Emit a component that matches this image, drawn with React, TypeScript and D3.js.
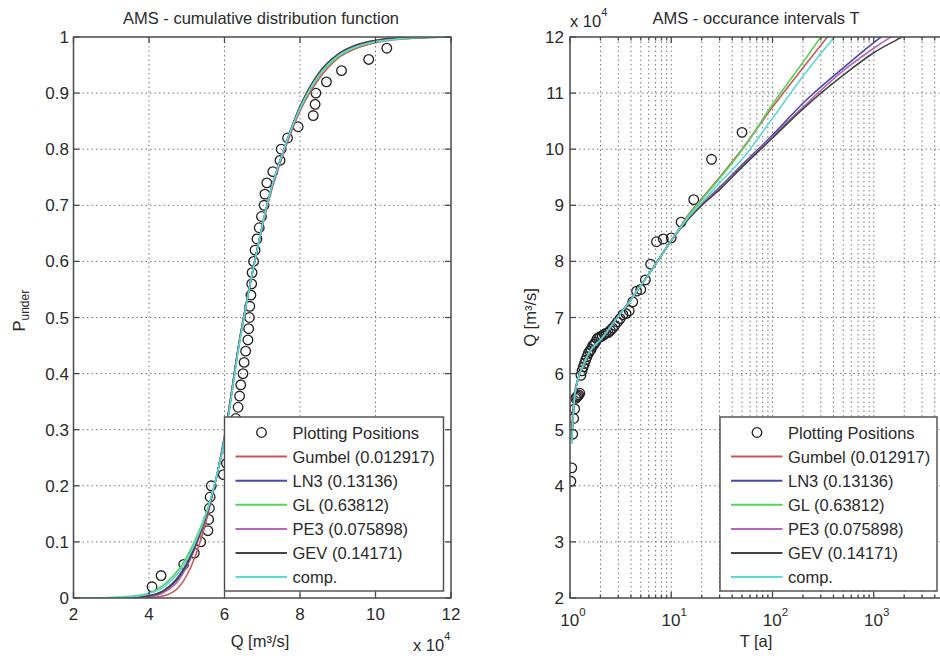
import React from "react";
import * as d3 from "d3";

// ---------- data ----------
// plotting positions (probability of non-exceedance) and observed annual maxima (x 10^4 m3/s)
const P_POS = [0.02, 0.04, 0.06, 0.08, 0.10, 0.12, 0.14, 0.16, 0.18, 0.20, 0.22, 0.24, 0.26, 0.28, 0.30, 0.32, 0.34, 0.36, 0.38, 0.40, 0.42, 0.44, 0.46, 0.48, 0.50, 0.52, 0.54, 0.56, 0.58, 0.60, 0.62, 0.64, 0.66, 0.68, 0.70, 0.72, 0.74, 0.76, 0.78, 0.80, 0.82, 0.84, 0.86, 0.88, 0.90, 0.92, 0.94, 0.96, 0.98];
const Q_OBS = [4.08, 4.32, 4.92, 5.20, 5.37, 5.56, 5.58, 5.60, 5.62, 5.65, 5.97, 6.05, 6.12, 6.18, 6.24, 6.30, 6.36, 6.40, 6.43, 6.49, 6.52, 6.56, 6.62, 6.64, 6.66, 6.67, 6.70, 6.72, 6.73, 6.77, 6.81, 6.86, 6.92, 6.98, 7.05, 7.07, 7.12, 7.28, 7.47, 7.50, 7.67, 7.95, 8.35, 8.40, 8.42, 8.70, 9.10, 9.82, 10.30];

// left panel: fitted CDFs, P at Q grid
const CDF_Q = [2, 3, 3.5, 4, 4.4, 4.8, 5.2, 5.6, 6, 6.4, 6.8, 7.2, 7.6, 8, 8.5, 9, 9.5, 10, 10.5, 11, 12];
const CDF_GUMBEL = [0, 0, 0, 0.0005, 0.004, 0.02, 0.07, 0.16, 0.29, 0.46, 0.6, 0.715, 0.8, 0.868, 0.925, 0.962, 0.98, 0.99, 0.995, 0.998, 1.0];
const CDF_LN3 = [0, 0.0002, 0.001, 0.004, 0.014, 0.04, 0.09, 0.165, 0.285, 0.46, 0.6, 0.72, 0.805, 0.875, 0.935, 0.968, 0.985, 0.993, 0.997, 0.999, 1.0];
const CDF_GL = [0, 0.001, 0.003, 0.009, 0.024, 0.052, 0.1, 0.17, 0.28, 0.455, 0.6, 0.72, 0.805, 0.872, 0.93, 0.964, 0.982, 0.991, 0.996, 0.998, 1.0];
const CDF_PE3 = [0, 0, 0.0002, 0.002, 0.01, 0.033, 0.085, 0.165, 0.285, 0.46, 0.6, 0.72, 0.805, 0.875, 0.935, 0.968, 0.985, 0.993, 0.997, 0.999, 1.0];
const CDF_GEV = [0, 0.0001, 0.0008, 0.004, 0.013, 0.038, 0.088, 0.165, 0.285, 0.46, 0.6, 0.72, 0.805, 0.876, 0.936, 0.969, 0.986, 0.994, 0.998, 0.999, 1.0];
const CDF_COMP = [0, 0.0008, 0.002, 0.008, 0.02, 0.047, 0.095, 0.168, 0.283, 0.457, 0.6, 0.72, 0.805, 0.873, 0.932, 0.966, 0.983, 0.992, 0.996, 0.999, 1.0];

// right panel: fitted quantiles Q (x 10^4) at return periods T
const RT_T = [1.04, 1.1, 1.2, 1.35, 1.5, 1.7, 2, 2.5, 3, 4, 5, 7, 10, 15, 20, 30, 50, 100, 200, 500, 1000, 2000, 5000];
const RT_GUMBEL = [5.05, 5.6, 5.92, 6.15, 6.33, 6.48, 6.6, 6.83, 7.02, 7.32, 7.57, 7.95, 8.37, 8.85, 9.12, 9.5, 10.0, 10.75, 11.45, 12.35, 13.0, 13.7, 14.6];
const RT_LN3 = [4.8, 5.5, 5.9, 6.15, 6.33, 6.48, 6.6, 6.83, 7.02, 7.32, 7.57, 7.95, 8.37, 8.78, 9.02, 9.32, 9.72, 10.25, 10.82, 11.45, 11.9, 12.3, 12.8];
const RT_GL = [4.75, 5.5, 5.9, 6.15, 6.33, 6.48, 6.6, 6.83, 7.02, 7.32, 7.57, 7.95, 8.37, 8.83, 9.1, 9.48, 9.98, 10.8, 11.55, 12.6, 13.5, 14.4, 15.7];
const RT_PE3 = [4.85, 5.52, 5.9, 6.15, 6.33, 6.48, 6.6, 6.83, 7.02, 7.32, 7.57, 7.95, 8.37, 8.78, 9.02, 9.3, 9.7, 10.22, 10.75, 11.4, 11.8, 12.15, 12.6];
const RT_GEV = [4.82, 5.5, 5.9, 6.15, 6.33, 6.48, 6.6, 6.83, 7.02, 7.32, 7.57, 7.95, 8.37, 8.77, 9.0, 9.28, 9.68, 10.2, 10.72, 11.32, 11.72, 12.02, 12.4];
const RT_COMP = [4.78, 5.5, 5.9, 6.15, 6.33, 6.48, 6.6, 6.83, 7.02, 7.32, 7.57, 7.95, 8.37, 8.8, 9.05, 9.4, 9.82, 10.55, 11.3, 12.2, 12.9, 13.6, 14.5];

const SERIES_NAMES = ["Gumbel (0.012917)", "LN3 (0.13136)", "GL (0.63812)", "PE3 (0.075898)", "GEV (0.14171)", "comp."];
const SERIES_COLORS = ["#c85a5a", "#4a4aa8", "#5ad25a", "#b865c0", "#444444", "#5cd8d8"];
const CDF_SERIES = [CDF_GUMBEL, CDF_LN3, CDF_GL, CDF_PE3, CDF_GEV, CDF_COMP];
const RT_SERIES = [RT_GUMBEL, RT_LN3, RT_GL, RT_PE3, RT_GEV, RT_COMP];

const LEFT_X_TICKS = [2, 4, 6, 8, 10, 12];
const LEFT_Y_TICKS = [0, 0.1, 0.2, 0.3, 0.4, 0.5, 0.6, 0.7, 0.8, 0.9, 1];
const RIGHT_Y_TICKS = [2, 3, 4, 5, 6, 7, 8, 9, 10, 11, 12];
const RIGHT_DECADES = [0, 1, 2, 3];

// ---------- layout ----------
const FONT = "'Liberation Sans', Arial, sans-serif";
const TXT = "#2a2a2a";
const AX = "#4a4a4a";
const GRID = "#777";
const LP = { x0: 73.5, x1: 451, y0: 37, y1: 598 };
const RP = { x0: 570, x1: 975, y0: 37, y1: 598 };

function Legend({ x, y, w, h }: { x: number; y: number; w: number; h: number }) {
  const rowH = 24.1;
  const first = y + 15.5;
  return (
    <g>
      <rect x={x} y={y} width={w} height={h} fill="#fff" stroke={AX} strokeWidth={1.4} />
      <circle cx={x + 37} cy={first} r={4.8} fill="none" stroke="#222" strokeWidth={1.3} />
      <text x={x + 68} y={first + 6} fontSize={16.5} fill={TXT}>Plotting Positions</text>
      {SERIES_NAMES.map((n, i) => (
        <g key={n}>
          <line x1={x + 11} x2={x + 62.5} y1={first + rowH * (i + 1)} y2={first + rowH * (i + 1)} stroke={SERIES_COLORS[i]} strokeWidth={2} />
          <text x={x + 68} y={first + rowH * (i + 1) + 6} fontSize={16.5} fill={TXT}>{n}</text>
        </g>
      ))}
    </g>
  );
}

export default function App() {
  const xL = d3.scaleLinear().domain([2, 12]).range([LP.x0, LP.x1]);
  const yL = d3.scaleLinear().domain([0, 1]).range([LP.y1, LP.y0]);
  const xR = d3.scaleLog().domain([1, 10000]).range([RP.x0, RP.x1]);
  const yR = d3.scaleLinear().domain([2, 12]).range([RP.y1, RP.y0]);

  const lineL = d3.line<[number, number]>().x((d) => xL(d[0])).y((d) => yL(d[1])).curve(d3.curveMonotoneX);
  const lineR = d3.line<[number, number]>().x((d) => xR(d[0])).y((d) => yR(d[1])).curve(d3.curveMonotoneX);

  const minorT: { v: number; major: boolean }[] = [];
  RIGHT_DECADES.forEach((d) => {
    for (let k = 1; k <= 9; k++) minorT.push({ v: k * Math.pow(10, d), major: k === 1 });
  });
  minorT.push({ v: 10000, major: true });

  const returnPeriods = P_POS.map((p) => 1 / (1 - p));

  return (
    <svg width={940} height={656} style={{ position: "absolute", left: 0, top: 0, background: "#fff" }} fontFamily={FONT}>
      <defs>
        <clipPath id="clipL"><rect x={LP.x0} y={LP.y0} width={LP.x1 - LP.x0} height={LP.y1 - LP.y0} /></clipPath>
        <clipPath id="clipR"><rect x={RP.x0} y={RP.y0} width={RP.x1 - RP.x0} height={RP.y1 - RP.y0} /></clipPath>
      </defs>
      <rect x={0} y={0} width={940} height={656} fill="#fff" />

      {/* ===== LEFT PANEL ===== */}
      <g>
        {LEFT_X_TICKS.slice(1, -1).map((t) => (
          <line key={"gx" + t} x1={xL(t)} x2={xL(t)} y1={LP.y0} y2={LP.y1} stroke={GRID} strokeWidth={1} strokeDasharray="1.5,3" />
        ))}
        {LEFT_Y_TICKS.slice(1, -1).map((t) => (
          <line key={"gy" + t} x1={LP.x0} x2={LP.x1} y1={yL(t)} y2={yL(t)} stroke={GRID} strokeWidth={1} strokeDasharray="1.5,3" />
        ))}
        <g clipPath="url(#clipL)">
          {P_POS.map((p, i) => (
            <circle key={"cl" + i} cx={xL(Q_OBS[i])} cy={yL(p)} r={4.8} fill="none" stroke="#222" strokeWidth={1.3} />
          ))}
          {CDF_SERIES.map((s, i) => (
            <path key={"ll" + i} d={lineL(CDF_Q.map((q, j) => [q, s[j]] as [number, number])) || ""} fill="none" stroke={SERIES_COLORS[i]} strokeWidth={1.6} />
          ))}
        </g>
        {LEFT_X_TICKS.map((t) => (
          <g key={"tx" + t}>
            <line x1={xL(t)} x2={xL(t)} y1={LP.y1} y2={LP.y1 - 6} stroke={AX} strokeWidth={1.3} />
            <line x1={xL(t)} x2={xL(t)} y1={LP.y0} y2={LP.y0 + 6} stroke={AX} strokeWidth={1.3} />
            <text x={xL(t)} y={620} fontSize={17} fill={TXT} textAnchor="middle">{t}</text>
          </g>
        ))}
        {LEFT_Y_TICKS.map((t) => (
          <g key={"ty" + t}>
            <line x1={LP.x0} x2={LP.x0 + 6} y1={yL(t)} y2={yL(t)} stroke={AX} strokeWidth={1.3} />
            <line x1={LP.x1} x2={LP.x1 - 6} y1={yL(t)} y2={yL(t)} stroke={AX} strokeWidth={1.3} />
            <text x={69} y={yL(t) + 6} fontSize={17} fill={TXT} textAnchor="end">{t}</text>
          </g>
        ))}
        <rect x={LP.x0} y={LP.y0} width={LP.x1 - LP.x0} height={LP.y1 - LP.y0} fill="none" stroke={AX} strokeWidth={1.5} />
        <Legend x={224.5} y={417} w={219} h={174} />
        <text x={261} y={24} fontSize={16.5} fill={TXT} textAnchor="middle">AMS - cumulative distribution function</text>
        <text x={260} y={647} fontSize={16.5} fill={TXT} textAnchor="middle">Q [m³/s]</text>
        <text x={413} y={651} fontSize={16.5} fill={TXT}>x 10<tspan fontSize={11} dy={-11}>4</tspan></text>
        <text transform={`translate(25,${(LP.y0 + LP.y1) / 2 + 14}) rotate(-90)`} fontSize={16.5} fill={TXT}>
          P<tspan fontSize={12} dy={4}>under</tspan>
        </text>
      </g>

      {/* ===== RIGHT PANEL ===== */}
      <g>
        {minorT.filter((m) => m.v > 1).map((m) => (
          <line key={"rgx" + m.v} x1={xR(m.v)} x2={xR(m.v)} y1={RP.y0} y2={RP.y1} stroke={GRID} strokeWidth={1} strokeDasharray="1.5,3" />
        ))}
        {RIGHT_Y_TICKS.slice(1, -1).map((t) => (
          <line key={"rgy" + t} x1={RP.x0} x2={RP.x1} y1={yR(t)} y2={yR(t)} stroke={GRID} strokeWidth={1} strokeDasharray="1.5,3" />
        ))}
        <g clipPath="url(#clipR)">
          {returnPeriods.map((T, i) => (
            <circle key={"cr" + i} cx={xR(T)} cy={yR(Q_OBS[i])} r={4.8} fill="none" stroke="#222" strokeWidth={1.3} />
          ))}
          {RT_SERIES.map((s, i) => (
            <path key={"rl" + i} d={lineR(RT_T.map((t, j) => [t, s[j]] as [number, number])) || ""} fill="none" stroke={SERIES_COLORS[i]} strokeWidth={1.6} />
          ))}
        </g>
        {minorT.map((m) => (
          <g key={"rtx" + m.v}>
            <line x1={xR(m.v)} x2={xR(m.v)} y1={RP.y1} y2={RP.y1 - (m.major ? 6 : 3.5)} stroke={AX} strokeWidth={1.3} />
            <line x1={xR(m.v)} x2={xR(m.v)} y1={RP.y0} y2={RP.y0 + (m.major ? 6 : 3.5)} stroke={AX} strokeWidth={1.3} />
          </g>
        ))}
        {RIGHT_DECADES.map((d) => (
          <text key={"rxl" + d} x={xR(Math.pow(10, d)) + 3} y={626} fontSize={17} fill={TXT} textAnchor="middle">
            10<tspan fontSize={11.5} dy={-10}>{d}</tspan>
          </text>
        ))}
        {RIGHT_Y_TICKS.map((t) => (
          <g key={"rty" + t}>
            <line x1={RP.x0} x2={RP.x0 + 6} y1={yR(t)} y2={yR(t)} stroke={AX} strokeWidth={1.3} />
            <text x={564} y={yR(t) + 6} fontSize={17} fill={TXT} textAnchor="end">{t}</text>
          </g>
        ))}
        <rect x={RP.x0} y={RP.y0} width={RP.x1 - RP.x0} height={RP.y1 - RP.y0} fill="none" stroke={AX} strokeWidth={1.5} />
        <Legend x={720} y={417} w={217} h={174} />
        <text x={756} y={24} fontSize={16.5} fill={TXT} textAnchor="middle">AMS - occurance intervals T</text>
        <text x={756} y={647} fontSize={16.5} fill={TXT} textAnchor="middle">T [a]</text>
        <text x={570} y={27} fontSize={16.5} fill={TXT}>x 10<tspan fontSize={11} dy={-11}>4</tspan></text>
        <text transform={`translate(536,${(RP.y0 + RP.y1) / 2}) rotate(-90)`} fontSize={16.5} fill={TXT} textAnchor="middle">Q [m³/s]</text>
      </g>
    </svg>
  );
}
